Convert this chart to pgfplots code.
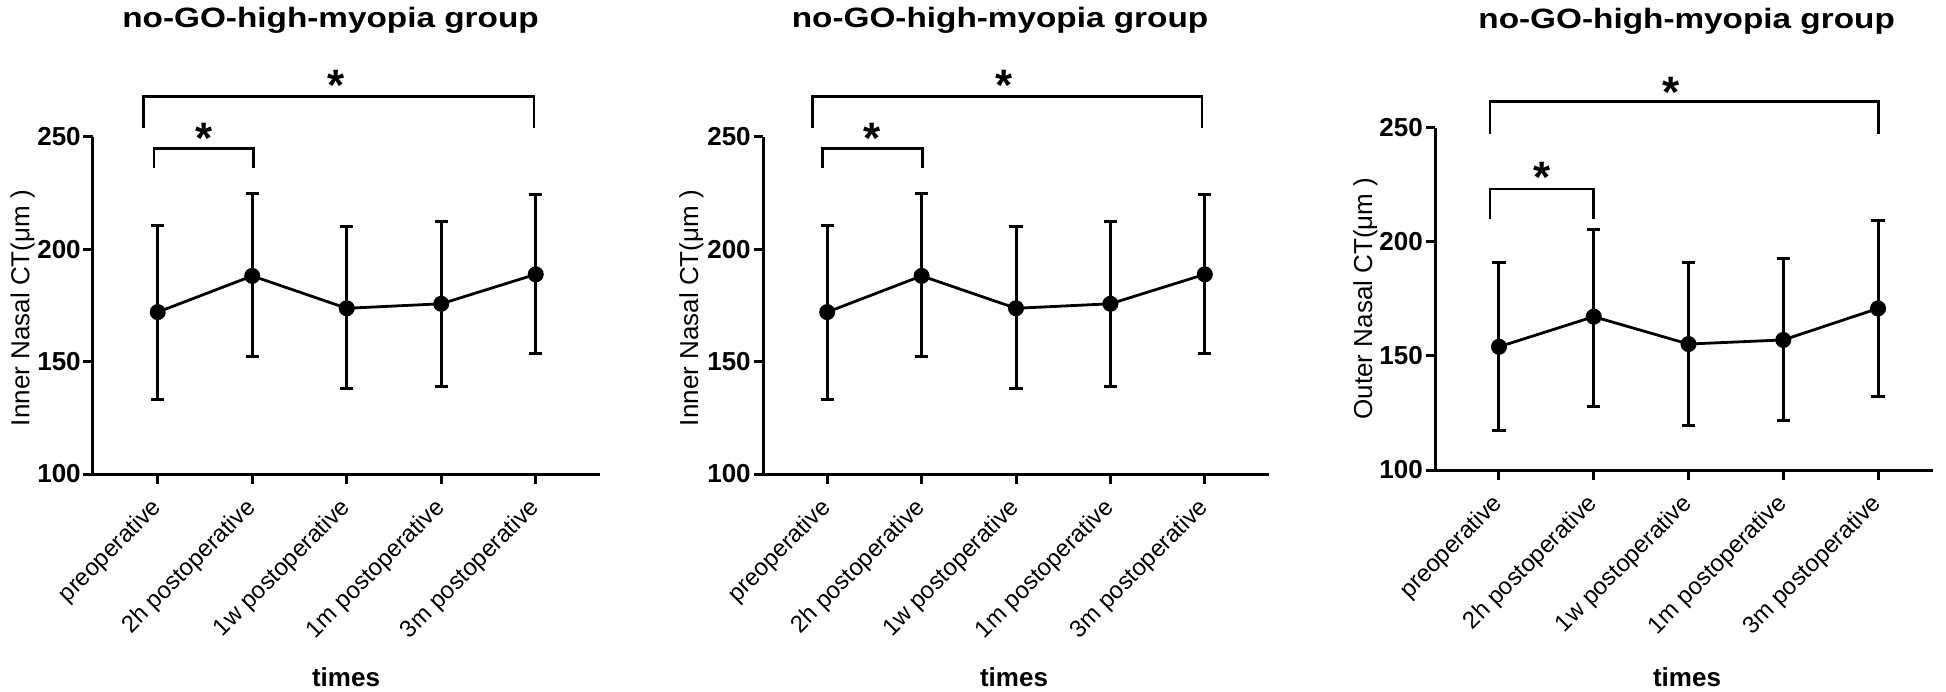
\documentclass[border=0pt]{standalone}
\usepackage{pgfplots}
\pgfplotsset{compat=1.18}
\usepackage{pgfplotstable}
\usepackage{graphicx}
\usepackage{fontspec}
\setmainfont{Liberation Sans}

\pgfplotstableread{
x y ep em
0 172.0 38.5 38.7
1 188.1 36.6 35.8
2 173.7 36.2 35.8
3 175.7 36.8 36.8
4 188.8 35.4 35.4
}\innerdata

\pgfplotstableread{
x y ep em
0 154.0 36.8 36.5
1 167.2 38.2 39.2
2 155.2 35.6 35.8
3 157.0 35.6 35.4
4 170.8 38.7 38.7
}\outerdata

\pgfplotsset{
 panel/.style={
  scale only axis, anchor=south west,
  axis lines=left, axis line style={-, line width=1.5pt},
  ymin=100, ymax=250, ytick={100,150,200,250}, yticklabels={100,150,200,250},
  xtick={0,1,2,3,4},
  xticklabels={preoperative,2h postoperative,1w postoperative,1m postoperative,3m postoperative},
  tick align=outside, major tick length=4.75pt, tick style={line width=1.5pt, black},
  yticklabel style={font=\fontsize{13}{15}\selectfont\bfseries, inner sep=0pt, xshift=-1.2pt},
  xticklabel style={font=\fontsize{12}{14}\selectfont, xshift=2.5pt, yshift=-8pt, rotate=45, anchor=east},
  clip=false,
 },
 dat/.style={black, line width=1.4pt, mark=*, mark size=3.3pt, mark options={solid},
  error bars/.cd, y dir=both, y explicit, error bar style={line width=1.5pt},
  error mark options={rotate=90, mark size=3.3pt, line width=1.5pt}},
 br/.style={black, line width=1.35pt, mark=none, forget plot},
}
\tikzset{star/.style={font=\fontsize{22}{24}\selectfont\bfseries, yshift=-4.7pt, inner sep=0pt}}

\newcommand{\ttl}{\fontsize{14}{16}\selectfont\bfseries\scalebox{1.19}[1]{no-GO-high-myopia group}}

\begin{document}
\begin{tikzpicture}
\useasboundingbox (0,0) rectangle (973pt,-345.5pt);

% Panel 1
\begin{axis}[panel, at={(46.5pt,-237pt)}, width=253.5pt, height=168.65pt, xmin=-0.685, xmax=4.68]
\addplot[dat] table[x=x,y=y,y error plus=ep,y error minus=em]{\innerdata};
\addplot[br] coordinates {(-0.15,254) (-0.15,267.8) (3.98,267.8) (3.98,254)};
\addplot[br] coordinates {(-0.04,235.9) (-0.04,244.8) (1.01,244.8) (1.01,235.9)};
\node[star] at (axis cs:1.885,277) {*};
\node[star] at (axis cs:0.494,253.6) {*};
\end{axis}

% Panel 2
\begin{axis}[panel, at={(381.5pt,-237pt)}, width=253pt, height=168.65pt, xmin=-0.68, xmax=4.68]
\addplot[dat] table[x=x,y=y,y error plus=ep,y error minus=em]{\innerdata};
\addplot[br] coordinates {(-0.156,254) (-0.156,267.8) (3.97,267.8) (3.97,254)};
\addplot[br] coordinates {(-0.05,235.9) (-0.05,244.8) (1.01,244.8) (1.01,235.9)};
\node[star] at (axis cs:1.875,277) {*};
\node[star] at (axis cs:0.48,253.6) {*};
\end{axis}

% Panel 3
\begin{axis}[panel, at={(717.5pt,-235pt)}, width=249pt, height=171.15pt, xmin=-0.675, xmax=4.58]
\addplot[dat] table[x=x,y=y,y error plus=ep,y error minus=em]{\outerdata};
\addplot[br] coordinates {(-0.095,247.2) (-0.095,261.4) (4.004,261.4) (4.004,247.2)};
\addplot[br] coordinates {(-0.095,209.8) (-0.095,223.1) (1.0,223.1) (1.0,209.8)};
\node[star] at (axis cs:1.82,269.4) {*};
\node[star] at (axis cs:0.45,232.2) {*};
\end{axis}

% Titles
\node[anchor=base, inner sep=0pt] at (165.25pt,-13.65pt) {\ttl};
\node[anchor=base, inner sep=0pt] at (500pt,-13.65pt) {\ttl};
\node[anchor=base, inner sep=0pt] at (843.3pt,-14.2pt) {\ttl};

% y labels
\node[rotate=90, anchor=base, inner sep=0pt, font=\fontsize{13}{15}\selectfont] at (14.65pt,-154pt) {Inner Nasal CT(μm )};
\node[rotate=90, anchor=base, inner sep=0pt, font=\fontsize{13}{15}\selectfont] at (349pt,-154pt) {Inner Nasal CT(μm )};
\node[rotate=90, anchor=base, inner sep=0pt, font=\fontsize{13}{15}\selectfont] at (686pt,-149.25pt) {Outer Nasal CT(μm )};

% x labels
\node[anchor=base, inner sep=0pt, font=\fontsize{13}{15}\selectfont\bfseries] at (173pt,-343pt) {times};
\node[anchor=base, inner sep=0pt, font=\fontsize{13}{15}\selectfont\bfseries] at (507pt,-343pt) {times};
\node[anchor=base, inner sep=0pt, font=\fontsize{13}{15}\selectfont\bfseries] at (843.5pt,-343pt) {times};
\end{tikzpicture}
\end{document}
